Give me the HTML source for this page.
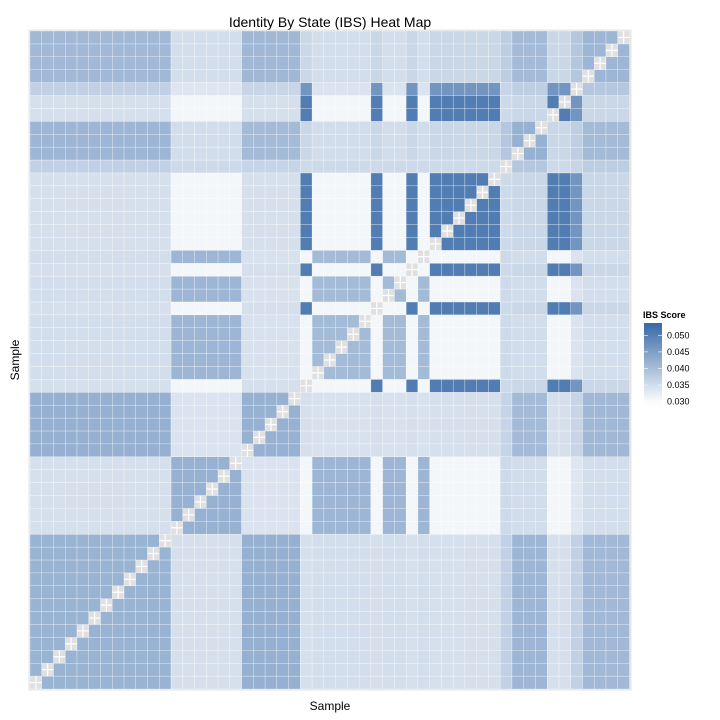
<!DOCTYPE html>
<html><head><meta charset="utf-8"><style>
html,body{margin:0;padding:0;background:#fff;}
svg{display:block;font-family:"Liberation Sans",Arial,sans-serif;}
</style></head><body>
<svg id="chart" width="720" height="720" viewBox="0 0 720 720">
<text x="330" y="27" text-anchor="middle" font-size="14" fill="#000">Identity By State (IBS) Heat Map</text>
<rect x="28.5" y="29.5" width="603" height="661" fill="#e6e6e6"/>
<g id="cells"></g>
<text x="330" y="710" text-anchor="middle" font-size="12">Sample</text>
<text x="19" y="360" text-anchor="middle" font-size="12" transform="rotate(-90 19 360)">Sample</text>
<g>
<text x="643" y="318" font-size="9" font-weight="bold">IBS Score</text>
<defs><linearGradient id="lg" x1="0" y1="1" x2="0" y2="0"></linearGradient></defs>
<rect x="644" y="323" width="18" height="87" fill="url(#lg)"/>
<g id="legticks"></g>
</g>
</svg>
<script>
// sample group membership, sample 0 = left / bottom
const sampleGroups = ["A","A","A","A","A","A","A","A","A","A","A","A",
 "C","C","C","C","C","C",
 "B","B","B","B","B",
 "D","C2","C2","C2","C2","C2","D","C2","C2","D","C2",
 "D","D","D","D","D","D",
 "F","G","G","G","D","D","D2","E","E","E","E"];
const groupNames = ["A","B","G","E","C","C2","D","D2","F"];
// symmetric group-pair mean IBS scores (rows/cols follow groupNames)
const groupMeans = [
 [0.0418,0.0422,0.0412,0.0408,0.0345,0.0348,0.0345,0.0370,0.0370],
 [0.0422,0.0420,0.0405,0.0410,0.0340,0.0342,0.0345,0.0362,0.0365],
 [0.0412,0.0405,0.0420,0.0405,0.0350,0.0350,0.0360,0.0372,0.0385],
 [0.0408,0.0410,0.0405,0.0412,0.0348,0.0348,0.0360,0.0385,0.0375],
 [0.0345,0.0340,0.0350,0.0348,0.0420,0.0412,0.0308,0.0335,0.0355],
 [0.0348,0.0342,0.0350,0.0348,0.0412,0.0405,0.0308,0.0340,0.0355],
 [0.0345,0.0345,0.0360,0.0360,0.0308,0.0308,0.0505,0.0465,0.0355],
 [0.0370,0.0362,0.0372,0.0385,0.0335,0.0340,0.0465,0.0465,0.0362],
 [0.0370,0.0365,0.0385,0.0375,0.0355,0.0355,0.0355,0.0362,0.0390]
];
const legendTicks = [0.030,0.035,0.040,0.045,0.050];

const NS="http://www.w3.org/2000/svg";
const N = sampleGroups.length;
const px0=30, px1=629.5, py0=31, py1=689;
const cw=(px1-px0)/N, ch=(py1-py0)/N;
const xPos = k => px0 + k*cw;
const yPos = k => py1 - (k+1)*ch;
const vmin=0.0295, vmax=0.0535;
const lo=[255,255,255], hi=[56,106,168];
function color(v){
  let t=(v-vmin)/(vmax-vmin); t=Math.max(0,Math.min(1,t));
  const c=lo.map((l,i)=>Math.round(l+(hi[i]-l)*t));
  return `rgb(${c[0]},${c[1]},${c[2]})`;
}
function value(a,b){
  const ga=groupNames.indexOf(sampleGroups[a]), gb=groupNames.indexOf(sampleGroups[b]);
  return groupMeans[ga][gb];
}
const cells=document.getElementById('cells');
for(let a=0;a<N;a++){ // x sample
  for(let b=0;b<N;b++){ // y sample
    const r=document.createElementNS(NS,'rect');
    r.setAttribute('x',xPos(a)); r.setAttribute('y',yPos(b));
    r.setAttribute('width',cw); r.setAttribute('height',ch);
    r.setAttribute('stroke','#fff'); r.setAttribute('stroke-width','0.4');
    r.setAttribute('stroke-opacity','0.7');
    if(a===b){
      r.setAttribute('fill','#e0e0e0');
      
    } else {
      r.setAttribute('fill',color(value(a,b)));
      
    }
    
    cells.appendChild(r);
    if(a===b){
      const cx=xPos(a)+cw/2, cy=yPos(b)+ch/2;
      const p=document.createElementNS(NS,'path');
      p.setAttribute('d',`M${cx} ${yPos(b)}V${yPos(b)+ch}M${xPos(a)} ${cy}H${xPos(a)+cw}`);
      p.setAttribute('stroke','#fff'); p.setAttribute('stroke-width','1.2');
      
      
      cells.appendChild(p);
    }
  }
}
// legend
const lg=document.getElementById('lg');
const lb0=410, lb1=323, lv0=0.0275, lv1=0.0537;
for(let i=0;i<=10;i++){
  const v=lv0+(lv1-lv0)*i/10;
  const s=document.createElementNS(NS,'stop');
  s.setAttribute('offset',(i*10)+'%'); s.setAttribute('stop-color',color(v));
  lg.appendChild(s);
}
const lt=document.getElementById('legticks');
legendTicks.forEach(v=>{
  const y=lb0-(v-lv0)/(lv1-lv0)*(lb0-lb1);
  const l1=document.createElementNS(NS,'line');
  l1.setAttribute('x1',644);l1.setAttribute('x2',648);l1.setAttribute('y1',y);l1.setAttribute('y2',y);
  l1.setAttribute('stroke','#fff');l1.setAttribute('stroke-width','0.6');
  
  
  lt.appendChild(l1);
  const l2=document.createElementNS(NS,'line');
  l2.setAttribute('x1',658);l2.setAttribute('x2',662);l2.setAttribute('y1',y);l2.setAttribute('y2',y);
  l2.setAttribute('stroke','#fff');l2.setAttribute('stroke-width','0.6');
  
  
  lt.appendChild(l2);
  const t=document.createElementNS(NS,'text');
  t.setAttribute('x',667);t.setAttribute('y',y+3);t.setAttribute('font-size','9');
  t.textContent=v.toFixed(3);
  
  
  lt.appendChild(t);
});
</script>
</body></html>
